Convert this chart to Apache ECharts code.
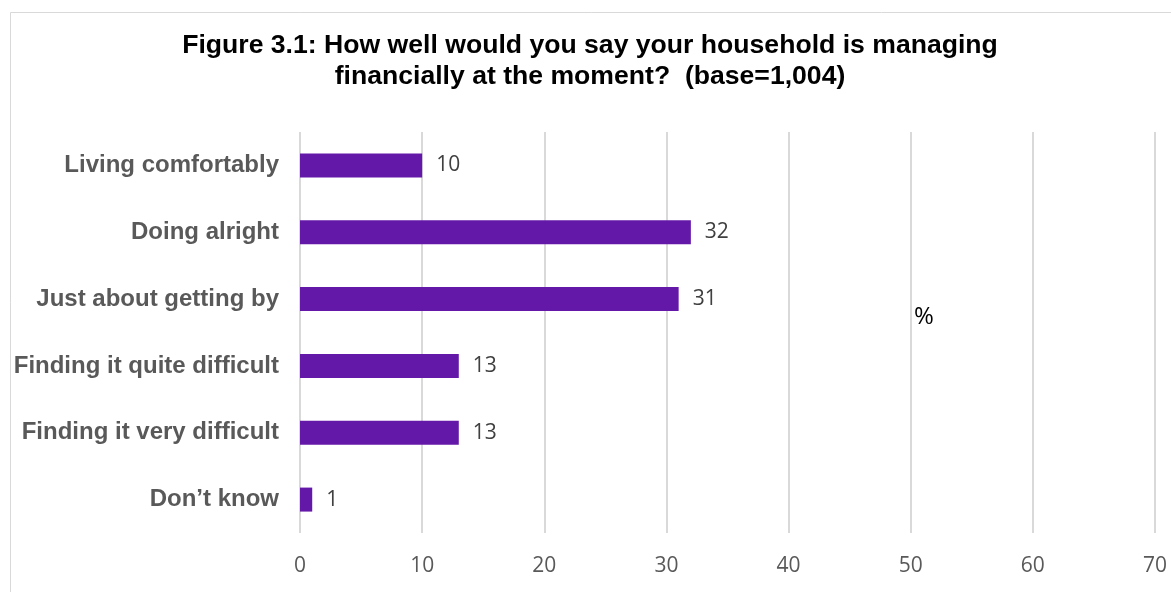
<!DOCTYPE html>
<html>
<head>
<meta charset="utf-8">
<script src="https://cdn.jsdelivr.net/npm/echarts@6/dist/echarts.min.js"></script>
<style>
  html, body { margin: 0; padding: 0; background: #ffffff; }
  #chart { width: 1171px; height: 592px; }
</style>
</head>
<body>
<div id="chart"></div>
<script>
// Household financial situation, percent of respondents
const categories = [
  'Living comfortably',
  'Doing alright',
  'Just about getting by',
  'Finding it quite difficult',
  'Finding it very difficult',
  'Don\u2019t know'
];
const percentages = [10, 32, 31, 13, 13, 1];
const xTicks = { min: 0, max: 70, interval: 10 };

const chart = echarts.init(document.getElementById('chart'), null, { renderer: 'canvas' });

chart.setOption({
  backgroundColor: '#ffffff',
  animation: false,
  title: {
    text: 'Figure 3.1: How well would you say your household is managing\nfinancially at the moment?  (base=1,004)',
    left: 585,
    top: 25,
    textAlign: 'center',
    textStyle: {
      fontFamily: 'Liberation Sans, Arial, sans-serif',
      fontSize: 26.6,
      fontWeight: 'bold',
      color: '#000000',
      lineHeight: 31
    }
  },
  graphic: [
    {
      type: 'rect',
      shape: { x: 10.5, y: 12.5, width: 1200, height: 640 },
      style: { fill: 'none', stroke: '#d9d9d9', lineWidth: 1 },
      silent: true,
      z: -1
    },
    {
      type: 'text',
      left: 914,
      top: 305,
      style: {
        text: '%',
        fontFamily: 'Open Sans, sans-serif',
        fontSize: 24,
        fill: '#000000'
      }
    }
  ],
  grid: { left: 300, right: 16, top: 132, bottom: 59, containLabel: false },
  xAxis: {
    type: 'value',
    min: xTicks.min,
    max: xTicks.max,
    interval: xTicks.interval,
    axisLine: { show: false },
    axisTick: { show: false },
    axisLabel: {
      margin: 23,
      fontFamily: 'Open Sans, sans-serif',
      fontSize: 21,
      color: '#595959'
    },
    splitLine: { show: true, lineStyle: { color: '#d9d9d9', width: 2 } }
  },
  yAxis: {
    type: 'category',
    data: categories,
    inverse: true,
    axisLine: { show: false },
    axisTick: { show: false },
    axisLabel: {
      margin: 21,
      padding: [3, 0, 0, 0],
      fontFamily: 'Liberation Sans, Arial, sans-serif',
      fontSize: 24,
      fontWeight: 'bold',
      color: '#595959'
    }
  },
  series: [{
    type: 'bar',
    data: percentages,
    barWidth: 24,
    itemStyle: { color: '#6418a8' },
    label: {
      show: true,
      position: 'right',
      distance: 14,
      padding: [4, 0, 0, 0],
      fontFamily: 'Open Sans, sans-serif',
      fontSize: 21,
      color: '#404040'
    }
  }]
});
</script>
</body>
</html>
